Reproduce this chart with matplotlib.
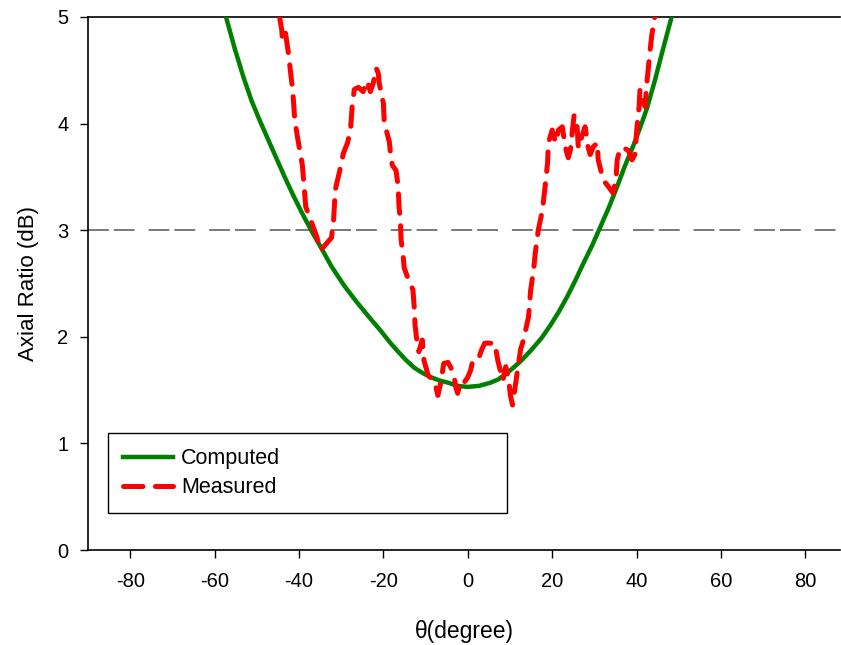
import numpy as np
import matplotlib
matplotlib.use("Agg")
import matplotlib.pyplot as plt

plt.rcParams['font.family'] = ['Liberation Sans', 'DejaVu Sans']
plt.rcParams['lines.scale_dashes'] = False
plt.rcParams['axes.unicode_minus'] = False

# computed axial ratio
computed_theta = [-57.3, -55.2, -53.2, -51.2, -49.2, -47.2, -45.3, -43.4, -41.4, -39.4,
                  -37.0, -35.4, -32.3, -29.3, -26.4, -23.5, -20.5, -18.5, -16.5, -14.6,
                  -12.7, -10.7, -8.7, -6.7, -4.7, -2.5, 0.0, 2.7, 5.4, 7.2,
                  9.0, 10.8, 12.5, 14.9, 16.0, 17.5, 19.6, 21.5, 23.6, 25.5,
                  27.4, 29.5, 31.4, 33.5, 35.4, 37.2, 39.2, 41.0, 42.5, 44.3,
                  46.0, 48.3]
computed_ar = [5.00, 4.70, 4.44, 4.21, 4.02, 3.84, 3.67, 3.50, 3.33, 3.17,
               2.99, 2.88, 2.66, 2.48, 2.33, 2.19, 2.05, 1.95, 1.86, 1.78,
               1.71, 1.66, 1.62, 1.59, 1.57, 1.54, 1.53, 1.54, 1.57, 1.60,
               1.65, 1.71, 1.77, 1.87, 1.92, 1.99, 2.11, 2.23, 2.38, 2.53,
               2.69, 2.86, 3.03, 3.22, 3.41, 3.60, 3.79, 3.98, 4.15, 4.40,
               4.66, 5.00]

# measured axial ratio
measured_theta = [-44.6, -44.1, -43.9, -43.2, -42.5, -42.0, -41.5, -41.0, -40.3, -39.2,
                  -38.4, -37.0, -35.8, -34.9, -32.3, -31.8, -31.4, -30.4, -29.5, -28.5,
                  -27.8, -27.4, -26.9, -25.9, -24.8, -23.8, -23.1, -22.4, -21.7, -21.2,
                  -21.0, -20.0, -19.8, -18.6, -18.4, -17.9, -17.0, -16.5, -16.3, -16.0,
                  -15.8, -15.3, -15.1, -14.2, -13.0, -12.7, -12.5, -12.0, -11.6, -10.8,
                  -10.4, -9.4, -8.5, -7.8, -7.1, -6.4, -5.7, -4.7, -4.0, -3.3,
                  -2.8, -2.4, -1.7, -0.9, 0.0, 0.7, 1.2, 2.6, 3.3, 4.0,
                  6.4, 7.1, 7.8, 8.3, 9.0, 9.7, 10.1, 10.6, 11.1, 11.8,
                  12.5, 13.2, 14.4, 14.9, 15.6, 16.0, 16.7, 17.7, 18.4, 18.9,
                  19.1, 20.0, 20.8, 21.5, 22.4, 23.1, 23.8, 24.3, 24.8, 25.2,
                  25.9, 26.2, 27.1, 27.8, 28.5, 29.0, 29.7, 30.7, 30.9, 32.1,
                  33.3, 34.4, 35.1, 35.4, 36.1, 37.0, 38.0, 38.9, 39.6, 40.1,
                  40.6, 40.8, 41.3, 42.0, 42.5, 43.2, 43.6, 44.3]
measured_ar = [5.00, 4.88, 4.78, 4.85, 4.66, 4.48, 4.32, 4.03, 3.86, 3.61,
               3.22, 3.07, 2.94, 2.81, 2.93, 3.10, 3.38, 3.55, 3.72, 3.82,
               3.94, 4.16, 4.32, 4.34, 4.30, 4.40, 4.30, 4.38, 4.52, 4.47,
               4.38, 4.19, 4.01, 3.83, 3.75, 3.61, 3.56, 3.41, 3.22, 3.10,
               2.91, 2.75, 2.65, 2.55, 2.44, 2.28, 2.11, 1.94, 1.86, 1.97,
               1.78, 1.64, 1.60, 1.57, 1.45, 1.57, 1.75, 1.76, 1.71, 1.64,
               1.52, 1.47, 1.59, 1.57, 1.62, 1.69, 1.78, 1.80, 1.88, 1.94,
               1.94, 1.78, 1.67, 1.59, 1.72, 1.59, 1.45, 1.36, 1.50, 1.69,
               1.88, 1.97, 2.19, 2.44, 2.63, 2.79, 3.00, 3.19, 3.44, 3.63,
               3.82, 3.94, 3.82, 3.94, 3.97, 3.78, 3.68, 3.75, 3.94, 4.08,
               3.97, 3.77, 3.89, 3.97, 3.78, 3.71, 3.78, 3.82, 3.66, 3.47,
               3.41, 3.35, 3.47, 3.66, 3.77, 3.77, 3.75, 3.66, 3.71, 3.97,
               4.16, 4.32, 4.27, 4.16, 4.41, 4.69, 4.83, 5.00]

W, H = 841, 645
fig = plt.figure(figsize=(W / 100, H / 100), dpi=100)
ax = fig.add_axes([88 / W, (H - 550) / H, (840 - 88) / W, (550 - 17) / H])

ax.axhline(3, color="#555555", lw=1.1, dashes=(15, 3.6, 15, 10), zorder=1)
ax.plot(computed_theta, computed_ar, color="#008000", lw=3.2, label="Computed", zorder=3)
ax.plot(measured_theta, measured_ar, color="#ff0000", lw=3.6, dashes=(14, 9),
        dash_capstyle="round", label="Measured", zorder=4)

ax.set_xlim(-90, 88.2)
ax.set_ylim(0, 5)
ax.set_xticks([-80, -60, -40, -20, 0, 20, 40, 60, 80])
ax.set_yticks([0, 1, 2, 3, 4, 5])
ax.tick_params(direction="out", length=6, width=1, labelsize=14.5)
ax.tick_params(axis="x", pad=10)
ax.tick_params(axis="y", pad=8)
ax.spines["right"].set_visible(False)
for s in ["left", "bottom", "top"]:
    ax.spines[s].set_linewidth(1.2)

ax.set_xlabel("θ(degree)", fontsize=16.5, labelpad=21)
ax.set_ylabel("Axial Ratio (dB)", fontsize=16, labelpad=13)

leg = ax.legend(loc="upper left", bbox_to_anchor=(0.0266, 0.0732, 0.5306, 0.1463),
                mode="expand", fontsize=15.5, handlelength=2.33, handletextpad=0.37,
                borderpad=0.7, borderaxespad=0, labelspacing=0.38,
                fancybox=False, framealpha=1, edgecolor="black")
leg.get_frame().set_linewidth(1.0)

fig.savefig("out.png", dpi=100)
